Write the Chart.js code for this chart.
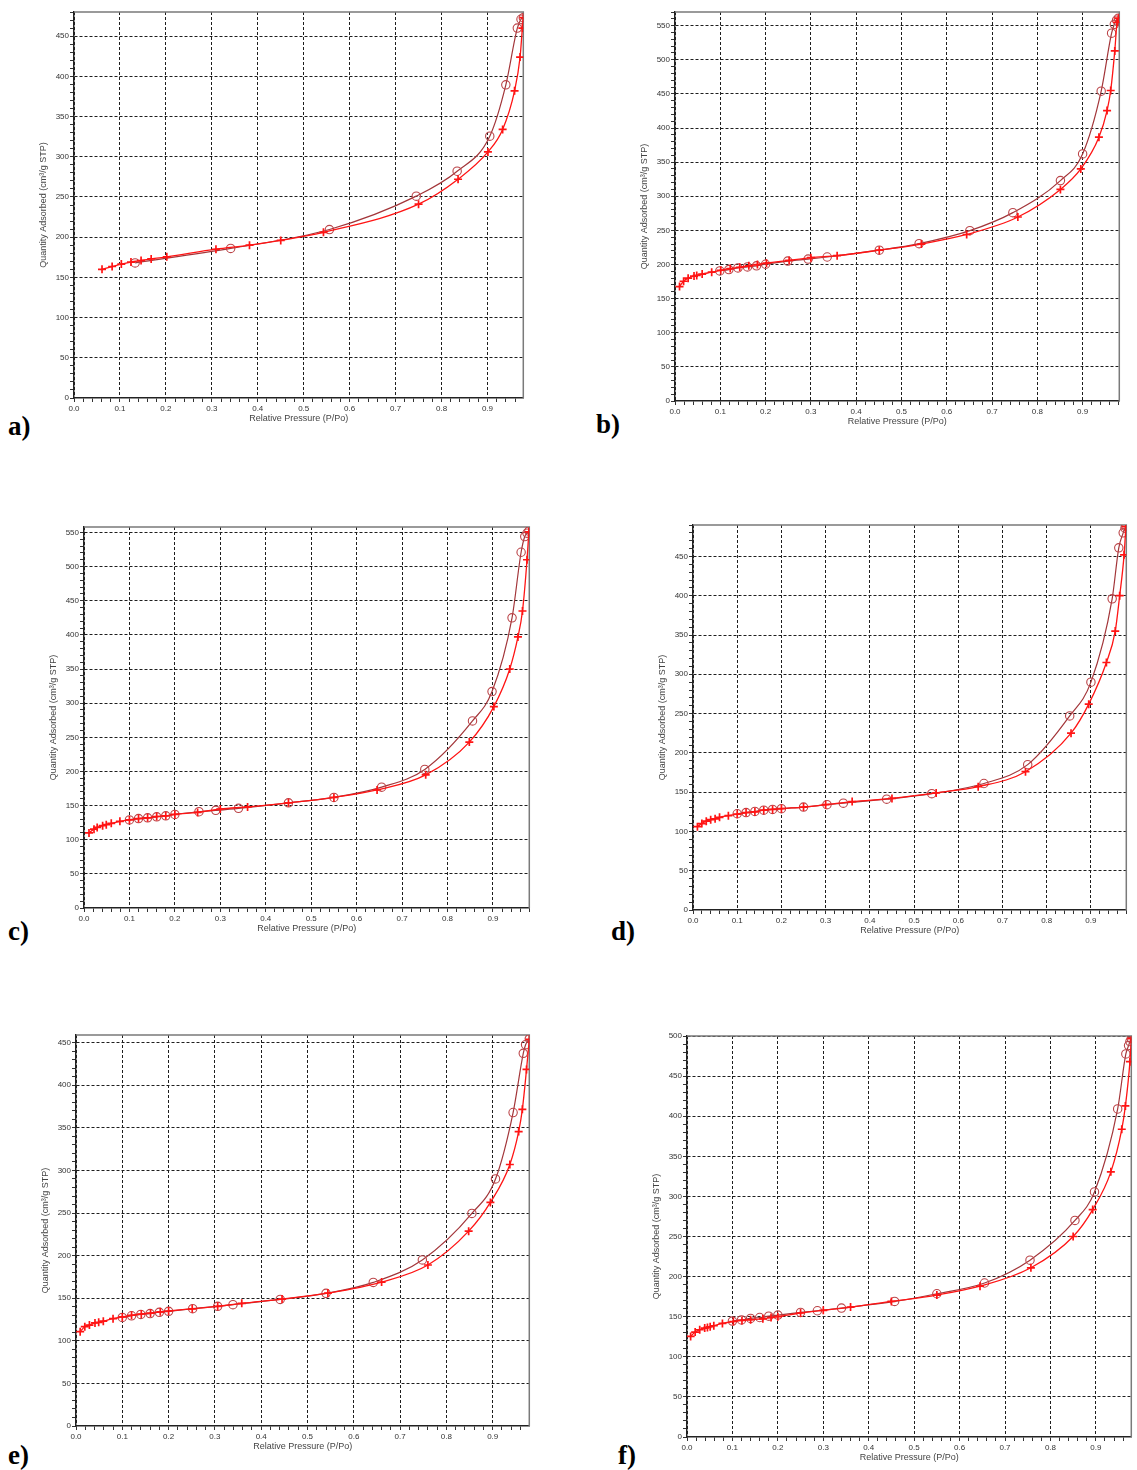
<!DOCTYPE html>
<html>
<head>
<meta charset="utf-8">
<script src="https://cdn.jsdelivr.net/npm/chart.js@4.4.1/dist/chart.umd.min.js"></script>
<style>
  body { margin: 0; background: #fff; }
  #page { position: relative; width: 1137px; height: 1470px; overflow: hidden; background: #fff; }
  canvas { position: absolute; }
  .tag { position: absolute; font-family: 'Liberation Serif', 'Times New Roman', serif; font-weight: bold; font-size: 27px; line-height: 1; color: #000; }
</style>
</head>
<body>
<div id="page"></div>
<script>
// ---- isotherm data (relative pressure P/Po, quantity adsorbed cm3/g STP) ----
const aAdsP = [0.061, 0.083, 0.103, 0.124, 0.146, 0.168, 0.202, 0.309, 0.382, 0.45, 0.543, 0.75, 0.836, 0.901, 0.933, 0.959, 0.971, 0.976, 0.978];
const aAdsQ = [160, 163.5, 166.5, 169, 171, 173, 175.5, 185, 190, 196, 206, 241, 272, 306, 334, 382, 424, 460, 473];
const aDesP = [0.133, 0.341, 0.556, 0.745, 0.834, 0.905, 0.94, 0.965, 0.973, 0.978];
const aDesQ = [168, 186, 209.5, 251, 282, 325.6, 389.5, 460, 471, 473];

const bAdsP = [0.01, 0.019, 0.029, 0.042, 0.048, 0.06, 0.081, 0.101, 0.122, 0.143, 0.163, 0.182, 0.202, 0.252, 0.3, 0.358, 0.451, 0.544, 0.644, 0.757, 0.851, 0.896, 0.936, 0.954, 0.962, 0.971, 0.976, 0.979];
const bAdsQ = [167.7, 175.5, 180, 183, 184, 186, 188.7, 191.6, 194, 196, 198, 200, 202, 206, 210, 213, 221, 230, 244, 269.6, 310, 340, 386.6, 425.6, 455, 513, 555, 561];
const bDesP = [0.099, 0.119, 0.139, 0.16, 0.18, 0.2, 0.249, 0.294, 0.336, 0.451, 0.539, 0.651, 0.746, 0.851, 0.9, 0.941, 0.964, 0.97, 0.975, 0.979];
const bDesQ = [190.6, 192.6, 195, 196.5, 198, 200.4, 205, 208, 211, 221, 230.6, 249.6, 276, 323, 362, 454, 539, 552, 558, 561];

const cAdsP = [0.011, 0.022, 0.029, 0.041, 0.049, 0.06, 0.079, 0.1, 0.12, 0.14, 0.16, 0.18, 0.2, 0.25, 0.3, 0.36, 0.45, 0.55, 0.645, 0.752, 0.848, 0.902, 0.937, 0.955, 0.965, 0.975, 0.979];
const cAdsQ = [110, 115.5, 118, 120.5, 122, 124, 127, 129, 131, 132, 134, 135, 137, 140, 145, 148, 154, 162, 173, 195, 243, 295, 350, 397, 435, 510, 551];
const cDesP = [0.1, 0.12, 0.14, 0.16, 0.18, 0.2, 0.253, 0.29, 0.34, 0.45, 0.55, 0.655, 0.75, 0.855, 0.898, 0.942, 0.962, 0.97, 0.975, 0.979];
const cDesQ = [129, 131, 132, 133.5, 135, 137, 141, 143, 146, 154, 162, 177, 203, 274, 317, 425, 521, 544, 549, 552];

const dAdsP = [0.01, 0.02, 0.03, 0.04, 0.05, 0.06, 0.08, 0.1, 0.12, 0.14, 0.16, 0.18, 0.2, 0.25, 0.3, 0.36, 0.45, 0.55, 0.645, 0.752, 0.855, 0.895, 0.935, 0.955, 0.965, 0.975, 0.979];
const dAdsQ = [106, 110, 113, 115, 116, 118, 120, 122, 124, 125, 127, 128, 129, 131, 134, 138, 142, 149, 157, 176, 225, 262, 315, 355, 400, 452, 488];
const dDesP = [0.1, 0.12, 0.14, 0.16, 0.18, 0.2, 0.25, 0.303, 0.34, 0.438, 0.54, 0.658, 0.757, 0.852, 0.9, 0.948, 0.963, 0.973, 0.977, 0.979];
const dDesQ = [122.5, 124, 125.5, 127, 128, 129, 131, 134, 136, 141, 148, 161, 185, 247, 290, 396, 461, 480, 486, 488];

const eAdsP = [0.009, 0.019, 0.029, 0.041, 0.049, 0.059, 0.08, 0.1, 0.12, 0.141, 0.161, 0.182, 0.2, 0.251, 0.306, 0.358, 0.445, 0.544, 0.66, 0.76, 0.848, 0.895, 0.937, 0.956, 0.964, 0.973, 0.979];
const eAdsQ = [110.7, 116.6, 118.5, 121, 121.7, 123, 126, 128, 130, 131.5, 132.6, 134, 135, 137.6, 140.5, 144, 149, 156, 169, 189, 228.7, 262.5, 307, 345.6, 371.7, 418.6, 454];
const eDesP = [0.1, 0.12, 0.14, 0.16, 0.18, 0.2, 0.252, 0.306, 0.339, 0.441, 0.54, 0.642, 0.748, 0.855, 0.906, 0.944, 0.966, 0.971, 0.979];
const eDesQ = [127.5, 129.4, 131, 132, 133.5, 134.6, 137.7, 140.5, 142.4, 148.6, 155.7, 168.6, 195, 249.6, 290, 368, 437.5, 447.6, 454.6];

const fAdsP = [0.008, 0.018, 0.028, 0.039, 0.045, 0.051, 0.059, 0.078, 0.102, 0.121, 0.14, 0.167, 0.185, 0.2, 0.25, 0.3, 0.36, 0.45, 0.55, 0.645, 0.757, 0.85, 0.893, 0.933, 0.957, 0.965, 0.975, 0.978];
const fAdsQ = [125.4, 130.8, 133.7, 135.8, 136.6, 137.5, 138.7, 141.6, 144, 145.3, 146.2, 147.4, 149, 150, 154.6, 158, 162, 169, 177, 188, 211, 250, 283.6, 330.6, 383.7, 412.8, 468, 496.7];
const fDesP = [0.1, 0.12, 0.14, 0.16, 0.18, 0.2, 0.25, 0.287, 0.34, 0.457, 0.55, 0.655, 0.755, 0.854, 0.897, 0.948, 0.966, 0.972, 0.975, 0.978];
const fDesQ = [144.5, 146, 147.8, 149, 150.7, 152, 155.3, 157.4, 160.7, 169, 178.6, 192, 220.5, 270, 305.6, 409, 477.6, 488, 493, 496.7];

const panelTags = ["a)", "b)", "c)", "d)", "e)", "f)"];
const xTitle = "Relative Pressure (P/Po)";
const yTitle = "Quantity Adsorbed (cm\u00b3/g STP)";

// plot box in page pixels + axis ranges
const panels = [
  { ads: [aAdsP, aAdsQ], des: [aDesP, aDesQ], box: [74, 528, 12, 398],    xMax: 0.978, yMax: 480, tag: [8, 413] },
  { ads: [bAdsP, bAdsQ], des: [bDesP, bDesQ], box: [675, 1124, 12, 401],  xMax: 0.981, yMax: 570, tag: [596, 411] },
  { ads: [cAdsP, cAdsQ], des: [cDesP, cDesQ], box: [84, 534, 527, 908],   xMax: 0.980, yMax: 558, tag: [8, 918] },
  { ads: [dAdsP, dAdsQ], des: [dDesP, dDesQ], box: [693, 1131, 525, 910], xMax: 0.980, yMax: 490, tag: [611, 918] },
  { ads: [eAdsP, eAdsQ], des: [eDesP, eDesQ], box: [76, 534, 1035, 1426], xMax: 0.979, yMax: 459, tag: [8, 1442] },
  { ads: [fAdsP, fAdsQ], des: [fDesP, fDesQ], box: [687, 1136, 1036, 1437], xMax: 0.978, yMax: 500, tag: [618, 1442] },
];

const Y_W = 40, X_H = 30, PAD_T = 6, PAD_R = 1;
const TICK_FONT = { family: "'Liberation Sans', Arial, sans-serif", size: 8 };
const TITLE_FONT = { family: "'Liberation Sans', Arial, sans-serif", size: 9 };
const GRID = "#1e1e1e";

const toPts = (xs, ys) => xs.map((x, i) => ({ x: x, y: ys[i] }));
const isMajorX = v => Math.round(v * 100) % 10 === 0;
const isMajorY = v => Math.round(v) % 50 === 0;

// grey frame on top / right of the plot area
const framePlugin = {
  id: "frame",
  beforeDatasetsDraw(chart) {
    const { ctx, chartArea: a } = chart;
    ctx.save();
    ctx.strokeStyle = "#7a7a7a";
    ctx.lineWidth = 1.5;
    ctx.beginPath();
    ctx.moveTo(a.left, a.top);
    ctx.lineTo(a.right, a.top);
    ctx.lineTo(a.right, a.bottom);
    ctx.stroke();
    ctx.restore();
  }
};

const page = document.getElementById("page");

panels.forEach((p, idx) => {
  const [l, r, t, b] = p.box;
  const cv = document.createElement("canvas");
  const w = (r - l) + Y_W + PAD_R;
  const h = (b - t) + PAD_T + X_H;
  cv.width = w; cv.height = h;
  cv.style.left = (l - Y_W) + "px";
  cv.style.top = (t - PAD_T) + "px";
  cv.style.width = w + "px"; cv.style.height = h + "px";
  page.appendChild(cv);

  const tag = document.createElement("div");
  tag.className = "tag";
  tag.textContent = panelTags[idx];
  tag.style.left = p.tag[0] + "px";
  tag.style.top = p.tag[1] + "px";
  page.appendChild(tag);

  new Chart(cv, {
    type: "scatter",
    data: {
      datasets: [
        {
          label: "Adsorption",
          data: toPts(p.ads[0], p.ads[1]),
          showLine: true,
          cubicInterpolationMode: "monotone",
          borderColor: "#ff1414",
          borderWidth: 1.3,
          pointStyle: "cross",
          pointRadius: 4,
          pointBorderWidth: 1.7,
          pointBorderColor: "#ff1414",
          pointBackgroundColor: "#ff1414"
        },
        {
          label: "Desorption",
          data: toPts(p.des[0], p.des[1]),
          showLine: true,
          cubicInterpolationMode: "monotone",
          borderColor: "#a3363a",
          borderWidth: 1.2,
          pointStyle: "circle",
          pointRadius: 4.2,
          pointBorderWidth: 1.1,
          pointBorderColor: "#bb4448",
          pointBackgroundColor: "rgba(0,0,0,0)"
        }
      ]
    },
    options: {
      responsive: false,
      animation: false,
      layout: { padding: { top: PAD_T, right: PAD_R, left: 0, bottom: 0 } },
      plugins: { legend: { display: false }, tooltip: { enabled: false } },
      scales: {
        x: {
          type: "linear",
          min: 0, max: p.xMax,
          afterFit: s => { s.height = X_H; },
          ticks: {
            stepSize: 0.02, autoSkip: false, maxRotation: 0, includeBounds: false,
            padding: 2, color: "#333", font: TICK_FONT,
            callback: v => isMajorX(v) ? (Math.round(v * 100) / 100).toFixed(1) : ""
          },
          grid: {
            color: c => (c.tick && isMajorX(c.tick.value)) ? GRID : "rgba(0,0,0,0)",
            lineWidth: 1,
            tickLength: 4,
            tickColor: "#333",
            tickBorderDash: []
          },
          border: { display: true, color: "#222", width: 1.5, dash: [3, 2] },
          title: { display: true, text: xTitle, color: "#444", font: TITLE_FONT }
        },
        y: {
          type: "linear",
          min: 0, max: p.yMax,
          afterFit: s => { s.width = Y_W; },
          ticks: {
            stepSize: 10, autoSkip: false, includeBounds: false,
            padding: 1, color: "#333", font: TICK_FONT,
            callback: v => isMajorY(v) ? String(Math.round(v)) : ""
          },
          grid: {
            color: c => (c.tick && isMajorY(c.tick.value) && c.tick.value > 0) ? GRID : "rgba(0,0,0,0)",
            lineWidth: 1,
            tickLength: 4,
            tickColor: "#333",
            tickBorderDash: []
          },
          border: { display: true, color: "#222", width: 1.5, dash: [3, 2] },
          title: { display: true, text: yTitle, color: "#444", font: TITLE_FONT }
        }
      }
    },
    plugins: [framePlugin]
  });
});
</script>
</body>
</html>
